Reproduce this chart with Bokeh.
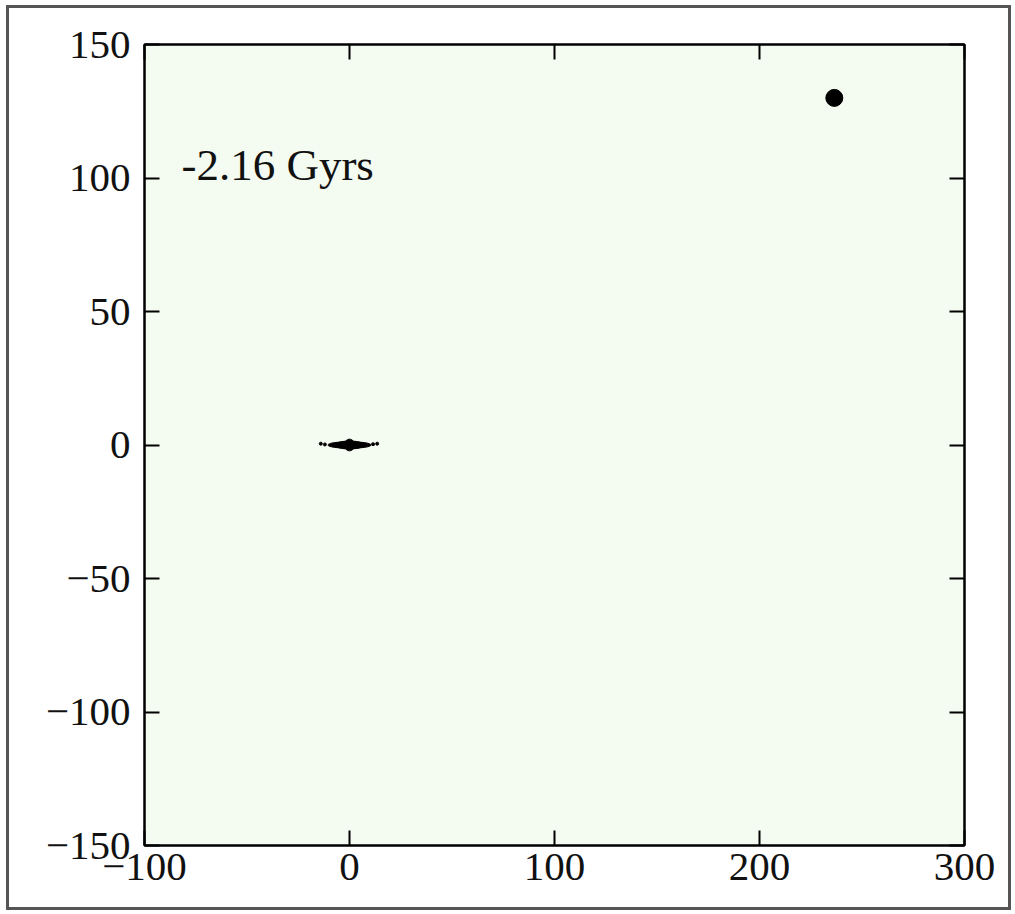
from bokeh.plotting import figure
from bokeh.models import LinearAxis, Label, Range1d, FixedTicker
from bokeh.embed import file_html
from bokeh.resources import INLINE

# ---- data ----
x_ticks = [-100, 0, 100, 200, 300]
y_ticks = [-150, -100, -50, 0, 50, 100, 150]
time_label = "-2.16 Gyrs"

# satellite
sat_x = [236.5]
sat_y = [130.0]

# host galaxy disk (edge-on) as ellipses: center, width, height
disk_x = [0.0, 0.0, 0.0]
disk_y = [0.0, 0.0, 0.0]
disk_w = [21.0, 14.0, 5.0]
disk_h = [2.5, 3.0, 4.4]

# stray disk particles
star_x = [-14.0, 13.5, -12.0, 11.5]
star_y = [0.5, 0.5, 0.2, 0.3]

FONT = "Liberation Serif"
FS = "41px"

def fmt(v):
    return ("\u2212" + str(abs(v))) if v < 0 else str(v)

p = figure(width=1005, height=905, output_backend="svg", toolbar_location=None,
           x_range=Range1d(-100, 300), y_range=Range1d(-150, 150),
           x_axis_location=None, y_axis_location=None,
           min_border_left=135, min_border_right=50,
           min_border_top=36, min_border_bottom=68,
           background_fill_color="#f4fbf0", border_fill_color="#ffffff",
           outline_line_color="black", outline_line_width=2,
           styles={"border": "3px solid #555555", "box-sizing": "border-box",
                   "margin-left": "6px", "margin-top": "5px"})
p.grid.visible = False

def make_axis(ticks, show_labels, standoff):
    ax = LinearAxis(ticker=FixedTicker(ticks=ticks))
    ax.major_tick_in = 15
    ax.major_tick_out = 0
    ax.minor_tick_line_color = None
    ax.axis_line_color = "black"
    ax.axis_line_width = 2
    ax.major_tick_line_color = "black"
    ax.major_tick_line_width = 2
    ax.major_label_standoff = standoff
    if show_labels:
        ax.major_label_overrides = {t: fmt(t) for t in ticks}
        ax.major_label_text_font = FONT
        ax.major_label_text_font_size = FS
        ax.major_label_text_color = "#111111"
    else:
        ax.major_label_text_font_size = "0px"
        ax.major_label_text_color = None
    return ax

p.add_layout(make_axis(x_ticks, True, 8), "below")
p.add_layout(make_axis(y_ticks, True, 14), "left")
p.add_layout(make_axis(x_ticks, False, 0), "above")
p.add_layout(make_axis(y_ticks, False, 0), "right")

p.ellipse(x=disk_x, y=disk_y, width=disk_w, height=disk_h,
          fill_color="black", line_color="black", line_width=1)
p.scatter(x=star_x, y=star_y, size=3, color="black")
p.scatter(x=sat_x, y=sat_y, size=17, color="black")

p.add_layout(Label(x=-82, y=105, text=time_label, text_font=FONT,
                   text_font_size="45px", text_color="#111111",
                   text_baseline="middle", text_align="left"))

open("out.html", "w").write(file_html(p, INLINE))
